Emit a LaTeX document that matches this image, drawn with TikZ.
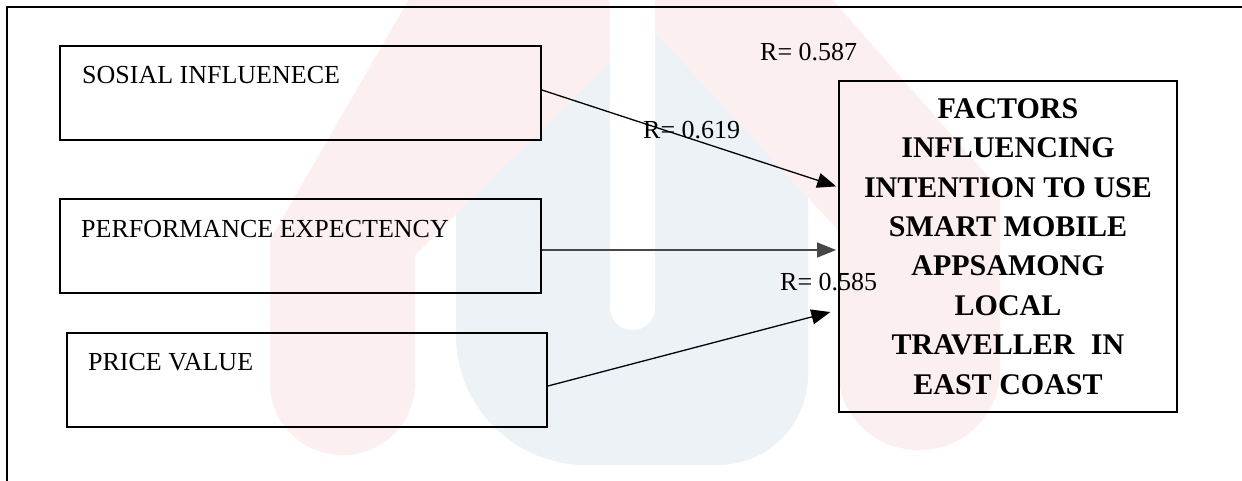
\documentclass[tikz,border=0pt]{standalone}
\usepackage{fontspec}
\setmainfont{Liberation Serif}
\usetikzlibrary{arrows.meta,calc}
\definecolor{wmpink}{RGB}{252,239,239}
\definecolor{wmblue}{RGB}{237,242,247}
\tikzset{
  box/.style={draw=black, line width=1.8pt, rectangle, inner sep=0pt},
  lbl/.style={inner sep=0pt, anchor=base west, font=\fontsize{26}{31}\selectfont},
  rlbl/.style={inner sep=0pt, anchor=base west, font=\fontsize{26}{31}\selectfont},
  conn/.style={line width=1.3pt, -{Triangle[length=19pt,width=15pt]}},
}
\begin{document}
\begin{tikzpicture}[x=1pt,y=-1pt]
\useasboundingbox (0,0) rectangle (1242,480);
% watermark
\fill[wmblue] (456,-20) [rounded corners=130] -- (456,465) [rounded corners=90] -- (808,465) [sharp corners] -- (808,-20) -- cycle;
\fill[wmpink] (270,240) -- (420,-20) -- (815,-20) -- (1000,190) -- (1000,370) [rounded corners=80] -- (1000,450) -- (838,450) [sharp corners] -- (838,370) -- (838,230) -- (648,25) -- (415,255) -- (415,370) [rounded corners=72] -- (415,455) -- (270,455) [sharp corners] -- (270,370) -- cycle;
\fill[white, rounded corners=22] (610,-30) -- (610,330) -- (655,330) -- (655,-30) [sharp corners] -- cycle;
% frame
\draw[line width=2.5pt] (1260,7) -- (7,7) -- (7,500);
% boxes
\node[box, minimum width=481pt, minimum height=94pt] (si) at (300.5,93) {};
\node[box, minimum width=481pt, minimum height=94pt] (pe) at (300.5,246) {};
\node[box, minimum width=480pt, minimum height=94pt] (pv) at (307,380) {};
\node[box, minimum width=338pt, minimum height=331pt,
      font=\fontsize{30}{39.4}\selectfont\bfseries, align=center] (tg) at (1008,246.5)
  {FACTORS\\INFLUENCING\\INTENTION TO USE\\SMART MOBILE\\APPSAMONG\\LOCAL\\TRAVELLER\hspace{0.55em}IN\\EAST COAST};
\node[lbl] (sit) at (82,83) {SOSIAL INFLUENECE};
\node[lbl] (pet) at (81,237) {PERFORMANCE EXPECTENCY};
\node[lbl] (pvt) at (88,370) {PRICE VALUE};
% connectors
\draw[conn, shorten >=2pt] ([yshift=3pt]si.east) -- ([yshift=59.5pt]tg.west);
\draw[conn, draw=black!72, shorten >=2pt] ([yshift=-4pt]pe.east) -- ([yshift=-4pt]pe.east -| tg.west);
\draw[conn, shorten >=8pt] ([yshift=-6pt]pv.east) -- ([yshift=-63.5pt]tg.west);
% labels
\node[rlbl] (r1) at (760,60) {R= 0.587};
\node[rlbl] (r2) at (643,138) {R= 0.619};
\node[rlbl] (r3) at (780,290) {R= 0.585};
\end{tikzpicture}
\end{document}
